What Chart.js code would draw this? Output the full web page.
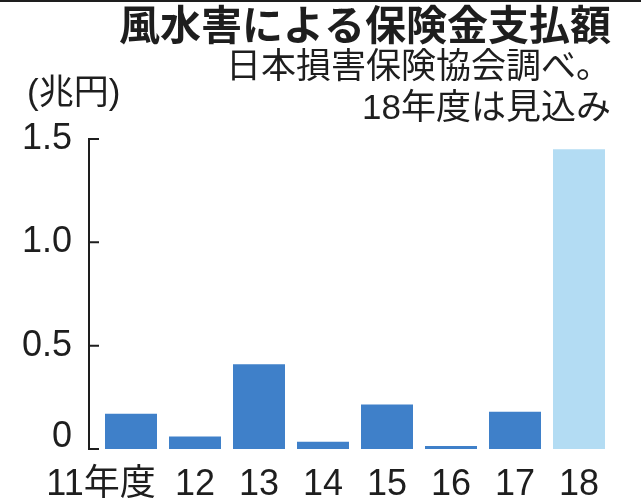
<!DOCTYPE html>
<html>
<head>
<meta charset="utf-8">
<script src="https://cdn.jsdelivr.net/npm/chart.js@4"></script>
<style>
  html, body { margin: 0; padding: 0; background: #fff; }
  #wrap { width: 641px; height: 502px; }
</style>
</head>
<body>
<div id="wrap"><canvas id="BarChart"></canvas></div>
<script>
const labels = ['11年度      ', '12', '13', '14', '15', '16', '17', '18'];
const values = [0.17, 0.06, 0.41, 0.035, 0.215, 0.015, 0.18, 1.45];
const barColors = ['#3f80c9', '#3f80c9', '#3f80c9', '#3f80c9', '#3f80c9', '#3f80c9', '#3f80c9', '#b3dcf3'];
const yTicks = [0, 0.5, 1.0, 1.5];

const numFont = "'Liberation Sans Narrow', 'Liberation Sans', 'Noto Sans CJK JP', sans-serif";
const jpFont = "'Liberation Sans', 'Noto Sans CJK JP', sans-serif";
const ink = '#1e1e1e';

// bracket style y axis, unit label and top rule
const decor = {
    id: 'decor',
    afterDraw(chart) {
        const ctx = chart.ctx;
        const y = chart.scales.y;
        const left = chart.chartArea.left - 10;
        ctx.save();
        ctx.strokeStyle = ink;
        ctx.lineWidth = 2;
        ctx.beginPath();
        ctx.moveTo(left, y.getPixelForValue(yTicks[yTicks.length - 1]));
        ctx.lineTo(left, y.getPixelForValue(0));
        yTicks.forEach(v => {
            const p = y.getPixelForValue(v);
            ctx.moveTo(left - 1, p);
            ctx.lineTo(left + 10, p);
        });
        ctx.stroke();

        ctx.fillStyle = ink;
        ctx.font = '35px ' + numFont;
        ctx.textBaseline = 'middle';
        ctx.textAlign = 'left';
        ctx.fillText('(兆円)', 27, 94);

        ctx.fillRect(0, 0, chart.width, 2);
        ctx.restore();
    }
};

new Chart(document.getElementById('BarChart'), {
    type: 'bar',
    data: {
        labels: labels,
        datasets: [{
            data: values,
            backgroundColor: barColors,
            barPercentage: 0.8125,
            categoryPercentage: 1
        }]
    },
    options: {
        responsive: true,
        maintainAspectRatio: false,
        animation: false,
        layout: { padding: { left: 0, right: 30, top: 0, bottom: 0 } },
        plugins: {
            legend: { display: false },
            tooltip: { enabled: false },
            title: {
                display: true,
                text: '風水害による保険金支払額',
                align: 'end',
                color: ink,
                font: { family: "'Noto Sans CJK JP', sans-serif", size: 41, weight: 'bold', lineHeight: 1 },
                padding: { top: 4, bottom: 0 }
            },
            subtitle: {
                display: true,
                text: ['日本損害保険協会調べ。', '18年度は見込み'],
                align: 'end',
                color: ink,
                font: { family: jpFont, size: 35, weight: 'normal', lineHeight: 1.17 },
                padding: { top: 3, bottom: 9 }
            }
        },
        scales: {
            x: {
                afterFit(scale) { scale.height = 53; },
                grid: { display: false, drawTicks: false },
                border: { display: false },
                ticks: {
                    color: ink,
                    autoSkip: false,
                    maxRotation: 0,
                    padding: 14,
                    font: { family: numFont, size: 36 }
                }
            },
            y: {
                min: 0,
                max: 1.5,
                afterFit(scale) { scale.width = 99; },
                grid: { display: false, drawTicks: false },
                border: { display: false },
                afterBuildTicks(scale) { scale.ticks = yTicks.map(v => ({ value: v })); },
                ticks: {
                    color: ink,
                    padding: 27,
                    font: ctx => ctx.tick && ctx.tick.value === 0
                        ? { family: numFont, size: 36, lineHeight: 0.65 }
                        : { family: numFont, size: 36 },
                    callback: v => v === 0 ? ['0', ''] : v.toFixed(1)
                }
            }
        }
    },
    plugins: [decor]
});
</script>
</body>
</html>
